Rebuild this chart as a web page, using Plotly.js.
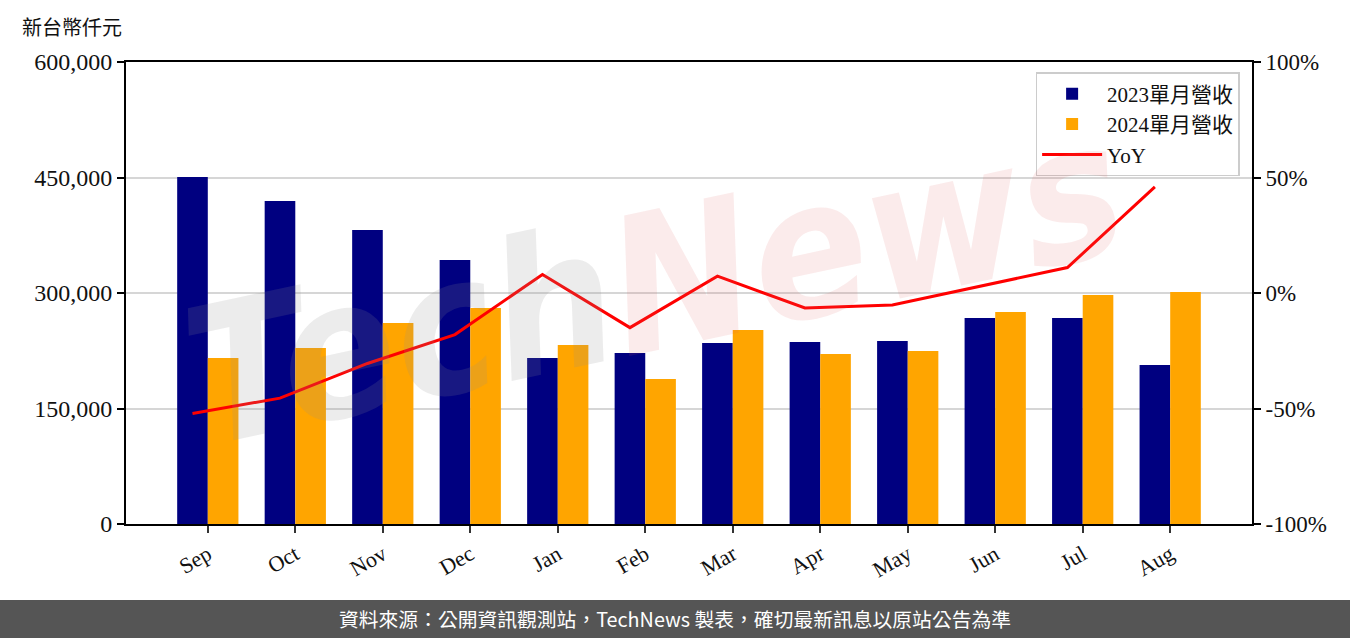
<!DOCTYPE html>
<html>
<head>
<meta charset="utf-8">
<script src="https://cdn.plot.ly/plotly-3.0.1.min.js"></script>
<style>
  html, body { margin: 0; padding: 0; background: #fff; }
  #chart { width: 1350px; height: 638px; }
</style>
</head>
<body>
<div id="chart"></div>
<script>
// ---- data ----
const months = ['Sep', 'Oct', 'Nov', 'Dec', 'Jan', 'Feb', 'Mar', 'Apr', 'May', 'Jun', 'Jul', 'Aug'];
const rev2023 = [450700, 419500, 381800, 342900, 215600, 222100, 235000, 236400, 237700, 267500, 267500, 206500];
const rev2024 = [215600, 228600, 261000, 280500, 232500, 188300, 252000, 220800, 224700, 275300, 297400, 301300];
const yoy = [-52.2, -45.5, -30.5, -18.0, 8.0, -15.0, 7.3, -6.5, -5.2, 2.8, 11.0, 45.9];
const leftTicks = [0, 150000, 300000, 450000, 600000];
const rightTickVals = [-100, -50, 0, 50, 100];
const rightTickText = ['-100%', '-50%', '0%', '50%', '100%'];
const seriesNames = ['2023單月營收', '2024單月營收', 'YoY'];
const yTitle = '新台幣仟元';
const footerText = '資料來源：公開資訊觀測站，TechNews 製表，確切最新訊息以原站公告為準';

// ---- layout helpers ----
const idx = months.map((m, i) => i);
const barW = 0.35;
const lineX = idx.map(i => i - barW / 2); // line sits on the centre of the 2023 bar

const serif = '"Liberation Serif", "Noto Sans CJK TC", serif';

const traces = [
  { type: 'bar', name: seriesNames[0], x: idx, y: rev2023, marker: { color: '#000080' }, yaxis: 'y' },
  { type: 'bar', name: seriesNames[1], x: idx, y: rev2024, marker: { color: '#FFA500' }, yaxis: 'y' },
  { type: 'scatter', mode: 'lines', name: seriesNames[2], x: lineX, y: yoy,
    line: { color: '#FF0000', width: 3 }, yaxis: 'y2' }
];

const layout = {
  width: 1350, height: 638,
  margin: { l: 126, r: 98, t: 62, b: 114 },
  paper_bgcolor: '#fff', plot_bgcolor: 'rgba(0,0,0,0)',
  barmode: 'group', bargap: 0.3, bargroupgap: 0,
  showlegend: true,
  font: { family: serif, color: '#111', size: 20 },
  xaxis: {
    range: [-0.935, 11.935],
    tickmode: 'array', tickvals: idx, ticktext: months,
    tickangle: -30,
    ticks: 'outside', ticklen: 7, tickwidth: 2, tickcolor: '#333',
    showline: true, linecolor: '#000', linewidth: 2, mirror: true,
    showgrid: false, zeroline: false,
    tickfont: { family: serif, size: 22, color: '#111' }
  },
  yaxis: {
    range: [0, 600000],
    tickmode: 'array', tickvals: leftTicks, tickformat: ',d',
    ticks: 'outside', ticklen: 7, tickwidth: 2, tickcolor: '#000',
    showline: true, linecolor: '#000', linewidth: 2,
    showgrid: true, gridcolor: '#d6d6d6', gridwidth: 2,
    zeroline: false,
    tickfont: { family: serif, size: 24, color: '#111' }
  },
  yaxis2: {
    overlaying: 'y', side: 'right',
    range: [-100, 100],
    tickmode: 'array', tickvals: rightTickVals, ticktext: rightTickText,
    ticks: 'outside', ticklen: 7, tickwidth: 2, tickcolor: '#000',
    showline: true, linecolor: '#000', linewidth: 2,
    showgrid: false, zeroline: false,
    tickfont: { family: serif, size: 23, color: '#111' }
  },
  legend: {
    x: 0.989, xanchor: 'right', y: 0.978, yanchor: 'top',
    bgcolor: 'rgba(255,255,255,0.85)', bordercolor: '#cccccc', borderwidth: 1.5,
    font: { family: serif, size: 21, color: '#111' },
    itemwidth: 60, traceorder: 'normal'
  },
  shapes: [
    { type: 'rect', xref: 'paper', yref: 'paper',
      x0: -0.13, x1: 1.11, y0: -0.2468, y1: -0.1645,
      fillcolor: '#555555', line: { width: 0 }, layer: 'above' }
  ],
  annotations: [
    { xref: 'paper', yref: 'paper', x: 0.47, y: 0.52, xanchor: 'center', yanchor: 'middle',
      text: '<span style="color:rgba(140,140,140,0.17)">Tech</span><span style="color:rgba(225,90,90,0.12)">News</span>',
      showarrow: false, textangle: -12,
      font: { family: '"DejaVu Sans Condensed", "DejaVu Sans", sans-serif', size: 190, weight: 'bold', style: 'italic' } },
    { xref: 'paper', yref: 'paper', x: -0.094, y: 1.0758, xanchor: 'left', yanchor: 'middle',
      text: yTitle, showarrow: false,
      font: { family: '"Noto Sans CJK TC", sans-serif', size: 20, color: '#111' } },
    { xref: 'paper', yref: 'paper', x: 0.4876, y: -0.2056, xanchor: 'center', yanchor: 'middle',
      text: footerText, showarrow: false,
      font: { family: '"Noto Sans CJK TC", sans-serif', size: 19.8, color: '#ffffff' } }
  ]
};

Plotly.newPlot('chart', traces, layout, { displayModeBar: false, staticPlot: true });
</script>
</body>
</html>
